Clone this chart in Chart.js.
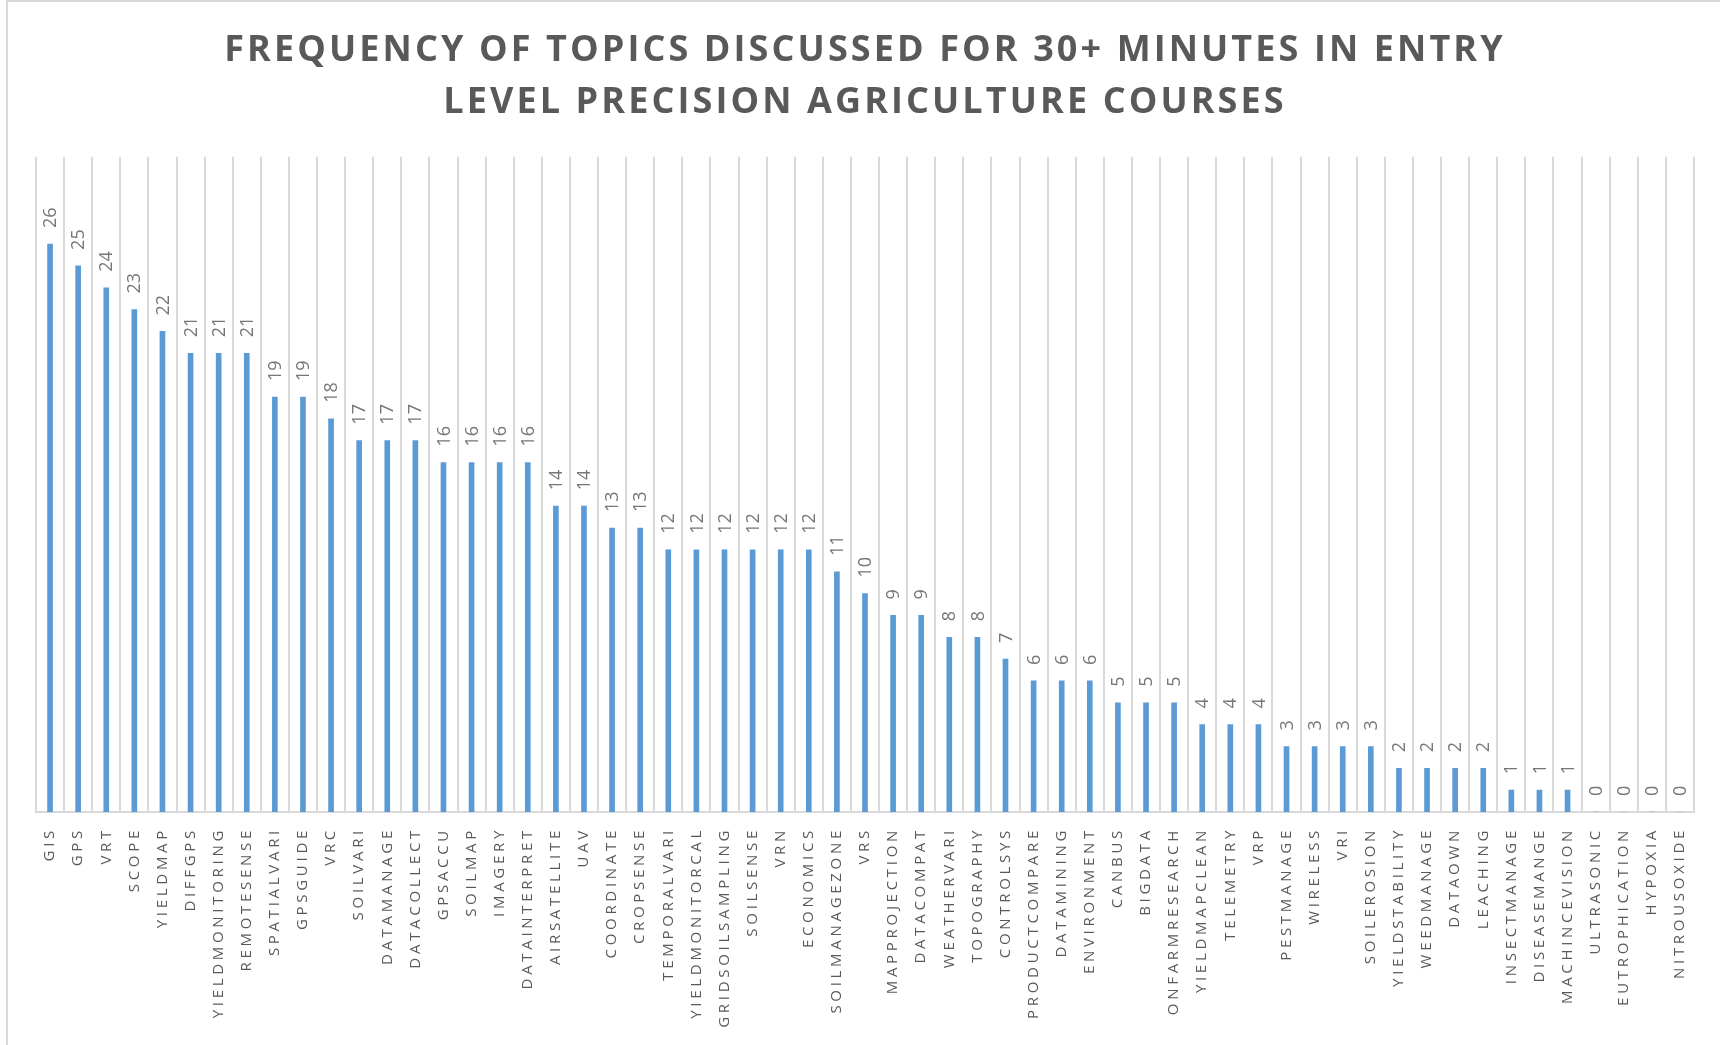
<!DOCTYPE html>
<html>
<head>
<meta charset="utf-8">
<title>Precision agriculture topics</title>
<script src="https://cdn.jsdelivr.net/npm/chart.js@4.4.1/dist/chart.umd.min.js"></script>
<style>
  html, body { margin: 0; padding: 0; background: #fff; }
  #wrap { position: relative; width: 1720px; height: 1045px; overflow: hidden; }
  #frame {
    position: absolute; left: 6px; top: 0; width: 1720px; height: 1045px;
    border-left: 2px solid #d9d9d9; border-top: 2px solid #d9d9d9;
    box-sizing: border-box; pointer-events: none;
  }
  #chart { position: absolute; left: 0; top: 0; }
</style>
</head>
<body>
<div id="wrap">
  <canvas id="chart" width="1720" height="1045"></canvas>
  <div id="frame"></div>
</div>
<script>
// topics and how many courses spent 30+ minutes on each
const topics = [
  'GIS', 'GPS', 'VRT', 'SCOPE', 'YIELDMAP', 'DIFFGPS', 'YIELDMONITORING', 'REMOTESENSE',
  'SPATIALVARI', 'GPSGUIDE', 'VRC', 'SOILVARI', 'DATAMANAGE', 'DATACOLLECT', 'GPSACCU',
  'SOILMAP', 'IMAGERY', 'DATAINTERPRET', 'AIRSATELLITE', 'UAV', 'COORDINATE', 'CROPSENSE',
  'TEMPORALVARI', 'YIELDMONITORCAL', 'GRIDSOILSAMPLING', 'SOILSENSE', 'VRN', 'ECONOMICS',
  'SOILMANAGEZONE', 'VRS', 'MAPPROJECTION', 'DATACOMPAT', 'WEATHERVARI', 'TOPOGRAPHY',
  'CONTROLSYS', 'PRODUCTCOMPARE', 'DATAMINING', 'ENVIRONMENT', 'CANBUS', 'BIGDATA',
  'ONFARMRESEARCH', 'YIELDMAPCLEAN', 'TELEMETRY', 'VRP', 'PESTMANAGE', 'WIRELESS', 'VRI',
  'SOILEROSION', 'YIELDSTABILITY', 'WEEDMANAGE', 'DATAOWN', 'LEACHING', 'INSECTMANAGE',
  'DISEASEMANGE', 'MACHINCEVISION', 'ULTRASONIC', 'EUTROPHICATION', 'HYPOXIA', 'NITROUSOXIDE'
];
const counts = [
  26, 25, 24, 23, 22, 21, 21, 21,
  19, 19, 18, 17, 17, 17, 16,
  16, 16, 16, 14, 14, 13, 13,
  12, 12, 12, 12, 12, 12,
  11, 10, 9, 9, 8, 8,
  7, 6, 6, 6, 5, 5,
  5, 4, 4, 4, 3, 3, 3,
  3, 2, 2, 2, 2, 1,
  1, 1, 0, 0, 0, 0
];
const yMax = 30;
const titleLines = [
  'FREQUENCY OF TOPICS DISCUSSED FOR 30+ MINUTES IN ENTRY',
  'LEVEL PRECISION AGRICULTURE COURSES'
];

// canvas letterSpacing differs for title / value labels / axis labels
const spacingPlugin = {
  id: 'spacing',
  beforeDraw(chart) {
    chart.ctx.letterSpacing = '3.1px';
  },
  afterDatasetsDraw(chart) {
    const ctx = chart.ctx;
    const meta = chart.getDatasetMeta(0);
    ctx.save();
    ctx.letterSpacing = '0px';
    ctx.font = '18px "Open Sans"';
    ctx.fillStyle = '#767676';
    ctx.textAlign = 'left';
    ctx.textBaseline = 'middle';
    meta.data.forEach((bar, i) => {
      ctx.save();
      ctx.translate(bar.x + 1, bar.y - 16);
      ctx.rotate(-Math.PI / 2);
      ctx.fillText(String(counts[i]), 0, 0);
      ctx.restore();
    });
    ctx.restore();
    // x tick labels are drawn after this (ticks.z = 1)
    ctx.letterSpacing = '3.7px';
  },
  afterDraw(chart) {
    chart.ctx.letterSpacing = '0px';
  }
};

new Chart(document.getElementById('chart'), {
  type: 'bar',
  data: {
    labels: topics,
    datasets: [{
      data: counts,
      backgroundColor: '#5b9bd5',
      borderWidth: 0,
      barThickness: 5
    }]
  },
  options: {
    responsive: false,
    animation: false,
    layout: { padding: { left: 36, right: 26, top: 0, bottom: 0 } },
    plugins: {
      legend: { display: false },
      tooltip: { enabled: false },
      title: {
        display: true,
        text: titleLines,
        color: '#595959',
        font: { family: '"Open Sans"', size: 36, weight: 'bold', lineHeight: 1.44 },
        padding: { top: 25, bottom: 28 }
      }
    },
    scales: {
      x: {
        offset: true,
        grid: { display: true, offset: true, color: '#d9d9d9', lineWidth: 2, drawTicks: false },
        border: { display: true, color: '#d9d9d9', width: 2 },
        ticks: {
          z: 1,
          autoSkip: false,
          minRotation: 90,
          maxRotation: 90,
          padding: 15,
          color: '#595959',
          font: { family: '"Open Sans"', size: 15 }
        },
        afterFit(scale) { scale.height = 233; }
      },
      y: {
        display: false,
        min: 0,
        max: yMax
      }
    }
  },
  plugins: [spacingPlugin]
});
</script>
</body>
</html>
